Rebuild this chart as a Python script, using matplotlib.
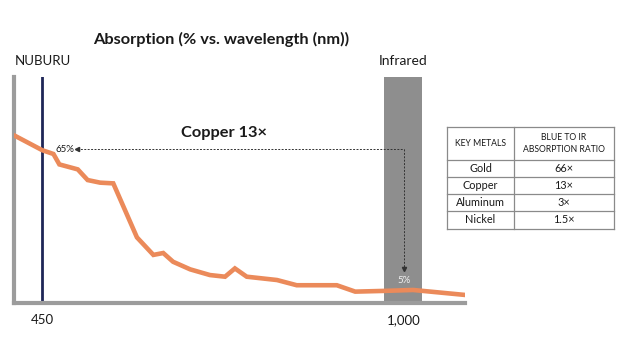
import matplotlib.pyplot as plt

# absorption curve of copper
wavelength = [409, 450, 467, 476, 504, 519, 538, 558, 594, 619, 634, 649, 675,
              705, 728, 743, 761, 807, 837, 898, 926, 969, 1014, 1093]
absorption = [70.5, 64.5, 62.9, 58.5, 56.4, 51.9, 50.8, 50.5, 27.7, 20.3, 21.1,
              17.4, 14.2, 11.8, 11.1, 14.6, 11.1, 9.7, 7.5, 7.5, 4.8, 5.1, 5.5, 3.4]

tick_pos = [450, 1000]
tick_labels = ['450', '1,000']

metals = ['Gold', 'Copper', 'Aluminum', 'Nickel']
ratios = ['66×', '13×', '3×', '1.5×']

orange = '#eb8a5a'
navy = '#1e2657'
band_gray = '#8e8e8e'
spine_gray = '#9c9c9c'
txt = '#1a1a1a'

plt.rcParams['font.family'] = ['Lato', 'DejaVu Sans']

fig = plt.figure(figsize=(6.21, 3.43), dpi=100)
ax = fig.add_axes([14/621, 40/343, 451/621, 226/343])
ax.set_xlim(407, 1093)
ax.set_ylim(0, 95.4)

# infrared band and nuburu line
ax.axvspan(970, 1027, color=band_gray, lw=0, zorder=1)
ax.axvline(450, color=navy, lw=2, zorder=2)
ax.plot(wavelength, absorption, color=orange, lw=3.3, solid_joinstyle='miter', zorder=3)

# 65% -> 5% arrows
ax.plot([503, 1000], [65, 65], ls=(0, (2, 1.5)), lw=0.7, color='#333333', zorder=4)
ax.plot([503], [65], marker='<', ms=3, color='#333333', zorder=4)
ax.plot([1000, 1000], [65, 14.5], ls=(0, (2, 1.5)), lw=0.7, color='#333333', zorder=4)
ax.plot([1000], [14.5], marker='v', ms=3, color='#333333', zorder=4)
ax.text(484, 65, '65%', fontsize=7, ha='center', va='center', color=txt)
ax.text(1000, 9.3, '5%', fontsize=7, ha='center', va='center', color='#f0f0f0', zorder=5)
ax.text(727, 71.7, 'Copper 13×', fontsize=11.8, fontweight='bold', ha='center', va='center', color=txt)

for s in ['top', 'right']:
    ax.spines[s].set_visible(False)
for s in ['left', 'bottom']:
    ax.spines[s].set_color(spine_gray)
    ax.spines[s].set_linewidth(3)
ax.set_yticks([])
ax.set_xticks(tick_pos)
ax.set_xticklabels(tick_labels, fontsize=9.5, color=txt)
ax.tick_params(axis='x', length=0, pad=8)

fig.text(221/621, 1 - 39/343, 'Absorption (% vs. wavelength (nm))', fontsize=11.8,
         fontweight='bold', ha='center', va='center', color=txt)
fig.text(15/621, 1 - 61/343, 'NUBURU', fontsize=9.5, ha='left', va='center', color=txt)
fig.text(403/621, 1 - 61/343, 'Infrared', fontsize=10, ha='center', va='center', color=txt)

# table
tx = fig.add_axes([447/621, 1 - 229/343, 167/621, 102/343])
tx.set_xlim(447, 614)
tx.set_ylim(229, 127)
tx.axis('off')
rows = [127, 160, 177, 194, 211, 229]
for y in rows:
    tx.plot([447, 614], [y, y], color='#8a8a8a', lw=0.9, clip_on=False)
for x in [447, 514, 614]:
    tx.plot([x, x], [127, 229], color='#8a8a8a', lw=0.9, clip_on=False)
tx.text(480.5, 143.5, 'KEY METALS', fontsize=6.2, ha='center', va='center', color=txt)
tx.text(564, 143.5, 'BLUE TO IR\nABSORPTION RATIO', fontsize=6.2, ha='center', va='center',
        color=txt, linespacing=1.3)
for i, (m, r) in enumerate(zip(metals, ratios)):
    yc = (rows[i + 1] + rows[i + 2]) / 2
    tx.text(480.5, yc, m, fontsize=7.8, ha='center', va='center', color=txt)
    tx.text(564, yc, r, fontsize=7.8, ha='center', va='center', color=txt)

fig.savefig('out.png', dpi=100)
